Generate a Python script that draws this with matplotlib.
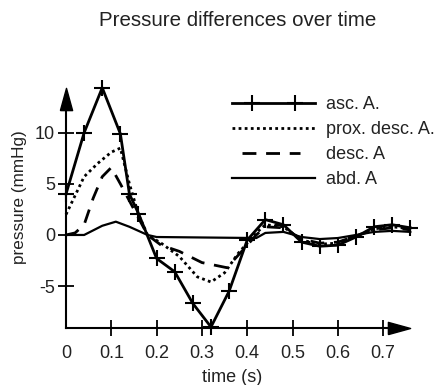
import matplotlib.pyplot as plt
from matplotlib.legend_handler import HandlerLine2D

plt.rcParams['font.family'] = ['Liberation Sans', 'DejaVu Sans']
plt.rcParams['axes.unicode_minus'] = False

# ---- data ----
t_asc = [0, 0.04, 0.08, 0.12, 0.14, 0.16, 0.20, 0.24, 0.28, 0.32, 0.36, 0.40,
         0.44, 0.48, 0.52, 0.56, 0.60, 0.64, 0.68, 0.72, 0.76]
p_asc = [4.0, 10.0, 14.4, 9.9, 4.0, 2.1, -2.3, -3.6, -6.7, -9.0, -5.5, -0.5,
         1.5, 1.0, -0.7, -1.1, -1.0, -0.2, 0.8, 1.0, 0.7]

t_prox = [0, 0.04, 0.07, 0.10, 0.12, 0.14, 0.16, 0.18, 0.21, 0.25, 0.29, 0.32,
          0.35, 0.38, 0.42, 0.44, 0.48, 0.52, 0.56, 0.60, 0.64, 0.68, 0.72, 0.76]
p_prox = [2.0, 5.7, 7.0, 8.1, 8.5, 5.0, 2.0, 0.0, -0.8, -2.1, -4.1, -4.6,
          -3.7, -1.8, 0.2, 1.0, 0.8, -0.5, -0.9, -0.8, -0.1, 0.6, 0.8, 0.6]

t_desc = [0, 0.02, 0.04, 0.06, 0.08, 0.10, 0.12, 0.15, 0.18, 0.21, 0.25, 0.30,
          0.355, 0.39, 0.42, 0.44, 0.48, 0.52, 0.56, 0.60, 0.64, 0.68, 0.72, 0.76]
p_desc = [0, 0.2, 1.0, 3.6, 5.7, 6.6, 5.0, 2.5, 0.0, -1.0, -1.6, -2.7,
          -3.2, -1.5, 0.0, 0.8, 0.7, -0.4, -0.8, -0.7, -0.1, 0.5, 0.7, 0.5]

t_abd = [0, 0.04, 0.08, 0.11, 0.14, 0.18, 0.20, 0.42, 0.44, 0.48, 0.52, 0.56,
         0.60, 0.64, 0.68, 0.72, 0.76]
p_abd = [0, 0, 0.9, 1.3, 0.8, 0, -0.2, -0.3, 0.2, 0.3, -0.2, -0.4,
         -0.3, 0, 0.3, 0.4, 0.3]

labels = ['asc. A.', 'prox. desc. A.', 'desc. A', 'abd. A']
xticks = [0, 0.1, 0.2, 0.3, 0.4, 0.5, 0.6, 0.7]
yticks = [-5, 0, 5, 10]

TXT = '#222222'
FS = 13


# legend line over the full handle width, two markers set in from the ends
class InsetMarkers(HandlerLine2D):
    def create_artists(self, legend, orig_handle, xdescent, ydescent,
                       width, height, fontsize, trans):
        arts = super().create_artists(legend, orig_handle, xdescent, ydescent,
                                      width, height, fontsize, trans)
        line = arts[0]
        x0, x1 = -xdescent, -xdescent + width
        pad = 0.24 * width
        y = (height - ydescent) / 2
        line.set_data([x0, x0 + pad, x1 - pad, x1], [y] * 4)
        line.set_markevery([1, 2])
        return arts


# shorter legend line (the dashed one sits inside the handle area)
class ShortLine(HandlerLine2D):
    def create_artists(self, legend, orig_handle, xdescent, ydescent,
                       width, height, fontsize, trans):
        arts = super().create_artists(legend, orig_handle, xdescent, ydescent,
                                      width, height, fontsize, trans)
        line = arts[0]
        x0, x1 = -xdescent, -xdescent + width
        y = (height - ydescent) / 2
        line.set_data([x0 + 0.12 * width, x1 - 0.18 * width], [y, y])
        return arts


# ---- figure ----
fig = plt.figure(figsize=(4.41, 3.85), dpi=100)
ax = fig.add_axes([66/441, 57/385, 333/441, 229/385])

l_asc, = ax.plot(t_asc, p_asc, color='k', lw=2, marker='+', ms=11, mew=1.5,
                 clip_on=False, label=labels[0])
ax.plot(t_prox, p_prox, color='k', lw=2, ls=(0, (1, 1.2)), clip_on=False,
        label=labels[1])
l_desc, = ax.plot(t_desc, p_desc, color='k', lw=2, ls=(0, (5, 3.5)),
                  clip_on=False, label=labels[2])
ax.plot(t_abd, p_abd, color='k', lw=1.6, clip_on=False, label=labels[3])

ax.set_xlim(0, 0.735)
ax.set_ylim(-9.1, 13.3)

for s in ['top', 'right']:
    ax.spines[s].set_visible(False)
for s in ['left', 'bottom']:
    ax.spines[s].set_linewidth(1.5)

# arrow heads (narrow triangles) at the ends of the axes
up = [(-0.55, -1), (0.55, -1), (0, 1), (-0.55, -1)]
right = [(-1, -0.55), (-1, 0.55), (1, 0), (-1, -0.55)]
ax.plot(1, -9.1, color='k', marker=right, ms=16,
        transform=ax.get_yaxis_transform(), clip_on=False)
ax.plot(0, 1, color='k', marker=up, ms=16,
        transform=ax.get_xaxis_transform(), clip_on=False)

ax.set_xticks(xticks)
ax.set_xticklabels(['0', '0.1', '0.2', '0.3', '0.4', '0.5', '0.6', '0.7'])
ax.set_yticks(yticks)
ax.tick_params(direction='inout', length=12, width=1.3, labelsize=FS,
               labelcolor=TXT)
ax.tick_params(axis='x', pad=6)
ax.tick_params(axis='y', pad=2)
ax.xaxis.get_major_ticks()[0].tick1line.set_visible(False)

ax.set_xlabel('time (s)', fontsize=FS, color=TXT, labelpad=5)
ax.set_ylabel('pressure (mmHg)', fontsize=12.3, color=TXT, va='center')
ax.yaxis.set_label_coords(-0.14, 0.572)

fig.text(238/441, 1 - 21/385, 'Pressure differences over time', ha='center',
         va='center', fontsize=14.8, color=TXT)

ax.legend(loc='upper left', bbox_to_anchor=(232/441, 1 - 96/385),
          bbox_transform=fig.transFigure, frameon=False, fontsize=FS,
          borderpad=0, borderaxespad=0,
          handlelength=4.6, handletextpad=0.6, labelspacing=0.45,
          labelcolor=TXT,
          handler_map={l_asc: InsetMarkers(), l_desc: ShortLine()})

fig.savefig('out.png', dpi=100)
